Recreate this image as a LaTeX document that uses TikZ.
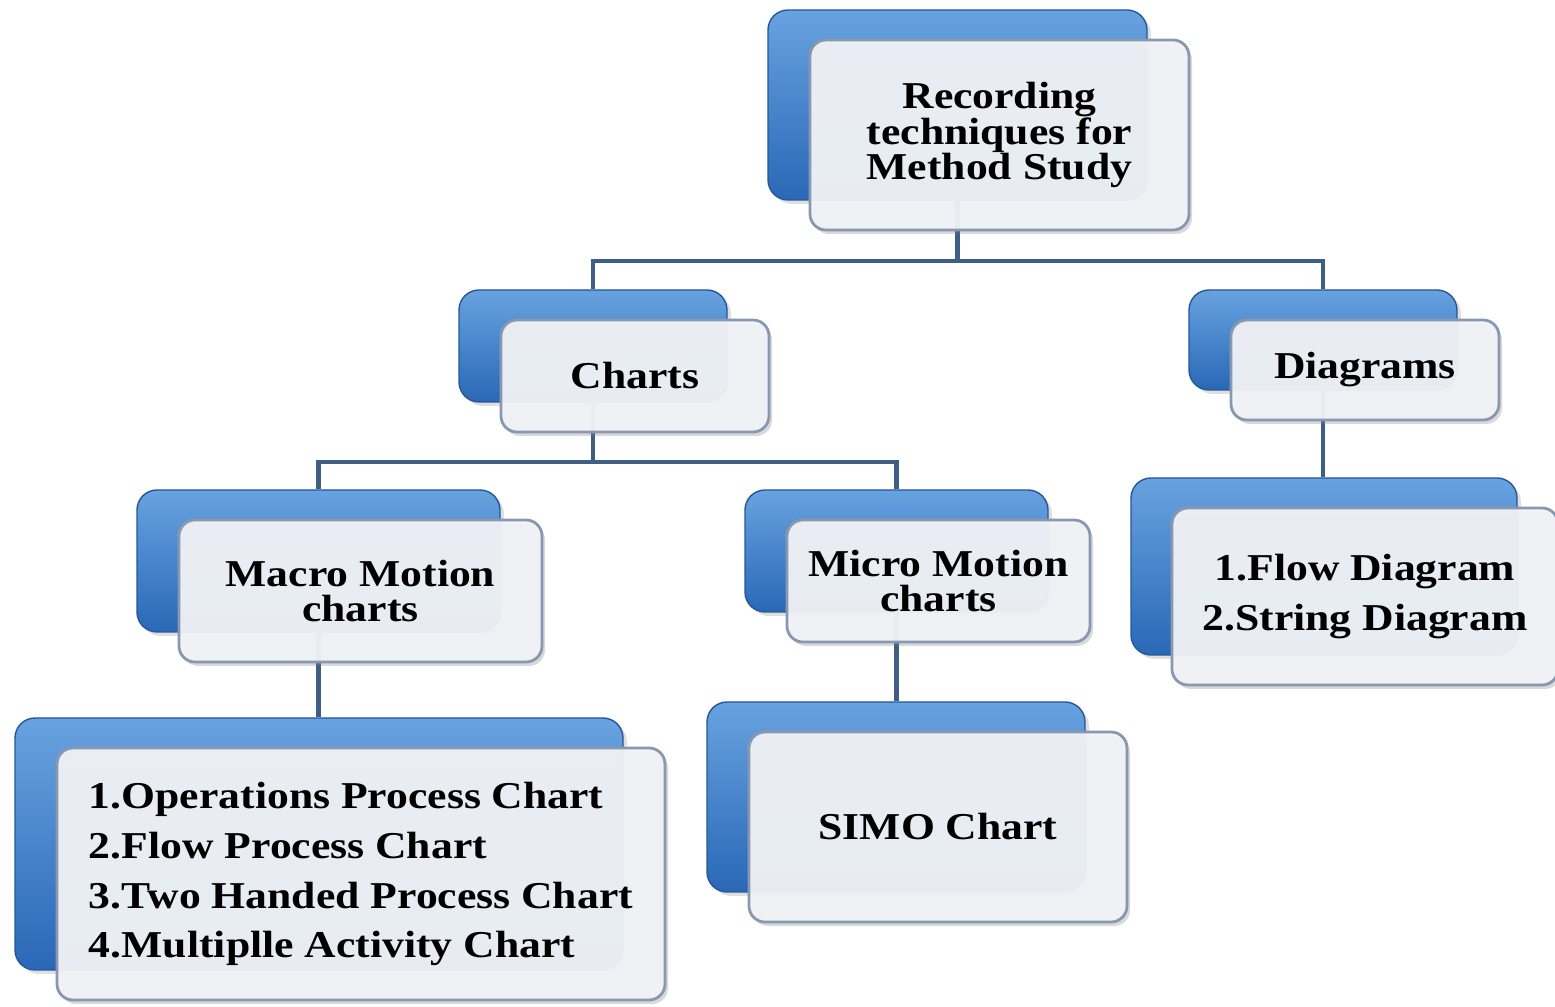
\documentclass[tikz,border=0pt]{standalone}
\usepackage{fontspec}
\setmainfont{Liberation Serif}[FakeStretch=1.15]
\usetikzlibrary{shadows}

\definecolor{blueTop}{RGB}{104,162,224}
\definecolor{blueBot}{RGB}{42,104,182}
\definecolor{frontFill}{RGB}{241,243,247}
\definecolor{frontLine}{RGB}{136,152,176}
\definecolor{linkBlue}{RGB}{62,94,134}

\begin{document}
\begin{tikzpicture}
	\useasboundingbox (0,0) rectangle (15.55,10.07);
	\tikzset{
		sizeRoot/.style={minimum width=3.79cm, minimum height=1.90cm},
		sizeCharts/.style={minimum width=2.68cm, minimum height=1.12cm},
		sizeDiag/.style={minimum width=2.68cm, minimum height=1.00cm},
		sizeMacro/.style={minimum width=3.63cm, minimum height=1.42cm},
		sizeMicro/.style={minimum width=3.03cm, minimum height=1.22cm},
		sizeDiagList/.style={minimum width=3.86cm, minimum height=1.77cm},
		sizeMacroList/.style={minimum width=6.08cm, minimum height=2.52cm},
		sizeSimo/.style={minimum width=3.78cm, minimum height=1.90cm},
	}
		\begin{scope}
			[
				styleBack/.style={
					rounded corners=0.2cm, inner sep=0pt,
					top color=blueTop, bottom color=blueBot,
					draw=blueBot!85!black, line width=0.4pt,
					drop shadow={opacity=0.25, shadow xshift=0.04, shadow yshift=-0.04}
					},
			]
			\node(rootB)[styleBack, sizeRoot] at (9.575,9.02) {};
			\node(chartsB)[styleBack, sizeCharts] at (5.93,6.61) {};
			\node(diagB)[styleBack, sizeDiag] at (13.23,6.67) {};
			\node(macroB)[styleBack, sizeMacro] at (3.185,4.46) {};
			\node(microB)[styleBack, sizeMicro] at (8.965,4.56) {};
			\node(diagListB)[styleBack, sizeDiagList] at (13.24,4.405) {};
			\node(macroListB)[styleBack, sizeMacroList] at (3.19,1.63) {};
			\node(simoB)[styleBack, sizeSimo] at (8.96,2.10) {};
		\end{scope}

		\begin{scope}
			[ link/.style = {draw=linkBlue, line width=1.15pt} ]
			\draw[link] (rootB.south) -- ++(0,-0.60) coordinate (rootJ);
			\draw[link] (chartsB.north) |- (rootJ) -| (diagB.north);
			\draw[link] (chartsB.south) -- ++(0,-0.59) coordinate (chartsJ);
			\draw[link] (macroB.north) |- (chartsJ) -| (microB.north);
			\draw[link] (macroB.south) -- (macroB.south |- macroListB.north);
			\draw[link] (microB.south) -- (microB.south |- simoB.north);
			\draw[link] (diagB.south) -- (diagB.south |- diagListB.north);
		\end{scope}

		\begin{scope}
			[
				styleFront/.style={
					rounded corners=0.16cm, inner sep=0pt, align=center,
					fill=frontFill, fill opacity=0.95, text opacity=1,
					draw=frontLine, line width=0.8pt,
					drop shadow={opacity=0.3, shadow xshift=0.03, shadow yshift=-0.04},
					font=\bfseries\fontsize{10.8}{10.2}\selectfont
					},
				styleList/.style={font=\bfseries\fontsize{10.8}{14.2}\selectfont},
			]
			\node(root)[styleFront, sizeRoot] at ([shift={(0.42,-0.30)}]rootB) {Recording\\techniques for\\Method Study};
			\node(charts)[styleFront, sizeCharts] at ([shift={(0.42,-0.30)}]chartsB) {Charts};
			\node(diag)[styleFront, sizeDiag] at ([shift={(0.42,-0.30)}]diagB) {Diagrams};
			\node(macro)[styleFront, sizeMacro] at ([shift={(0.42,-0.30)}]macroB) {Macro Motion\\charts};
			\node(micro)[styleFront, sizeMicro] at ([shift={(0.42,-0.30)}]microB) {Micro Motion\\charts};
			\node(diagList)[styleFront, styleList, sizeDiagList] at ([shift={(0.41,-0.30)}]diagListB) {1.Flow Diagram\\2.String Diagram};
			\node(macroList)[styleFront, styleList, sizeMacroList, align=left] at ([shift={(0.42,-0.30)}]macroListB) {1.Operations Process Chart\\2.Flow Process Chart\\3.Two Handed Process Chart\\4.Multiplle Activity Chart};
			\node(simo)[styleFront, sizeSimo] at ([shift={(0.42,-0.30)}]simoB) {SIMO Chart};
		\end{scope}
	\end{tikzpicture}
\end{document}
